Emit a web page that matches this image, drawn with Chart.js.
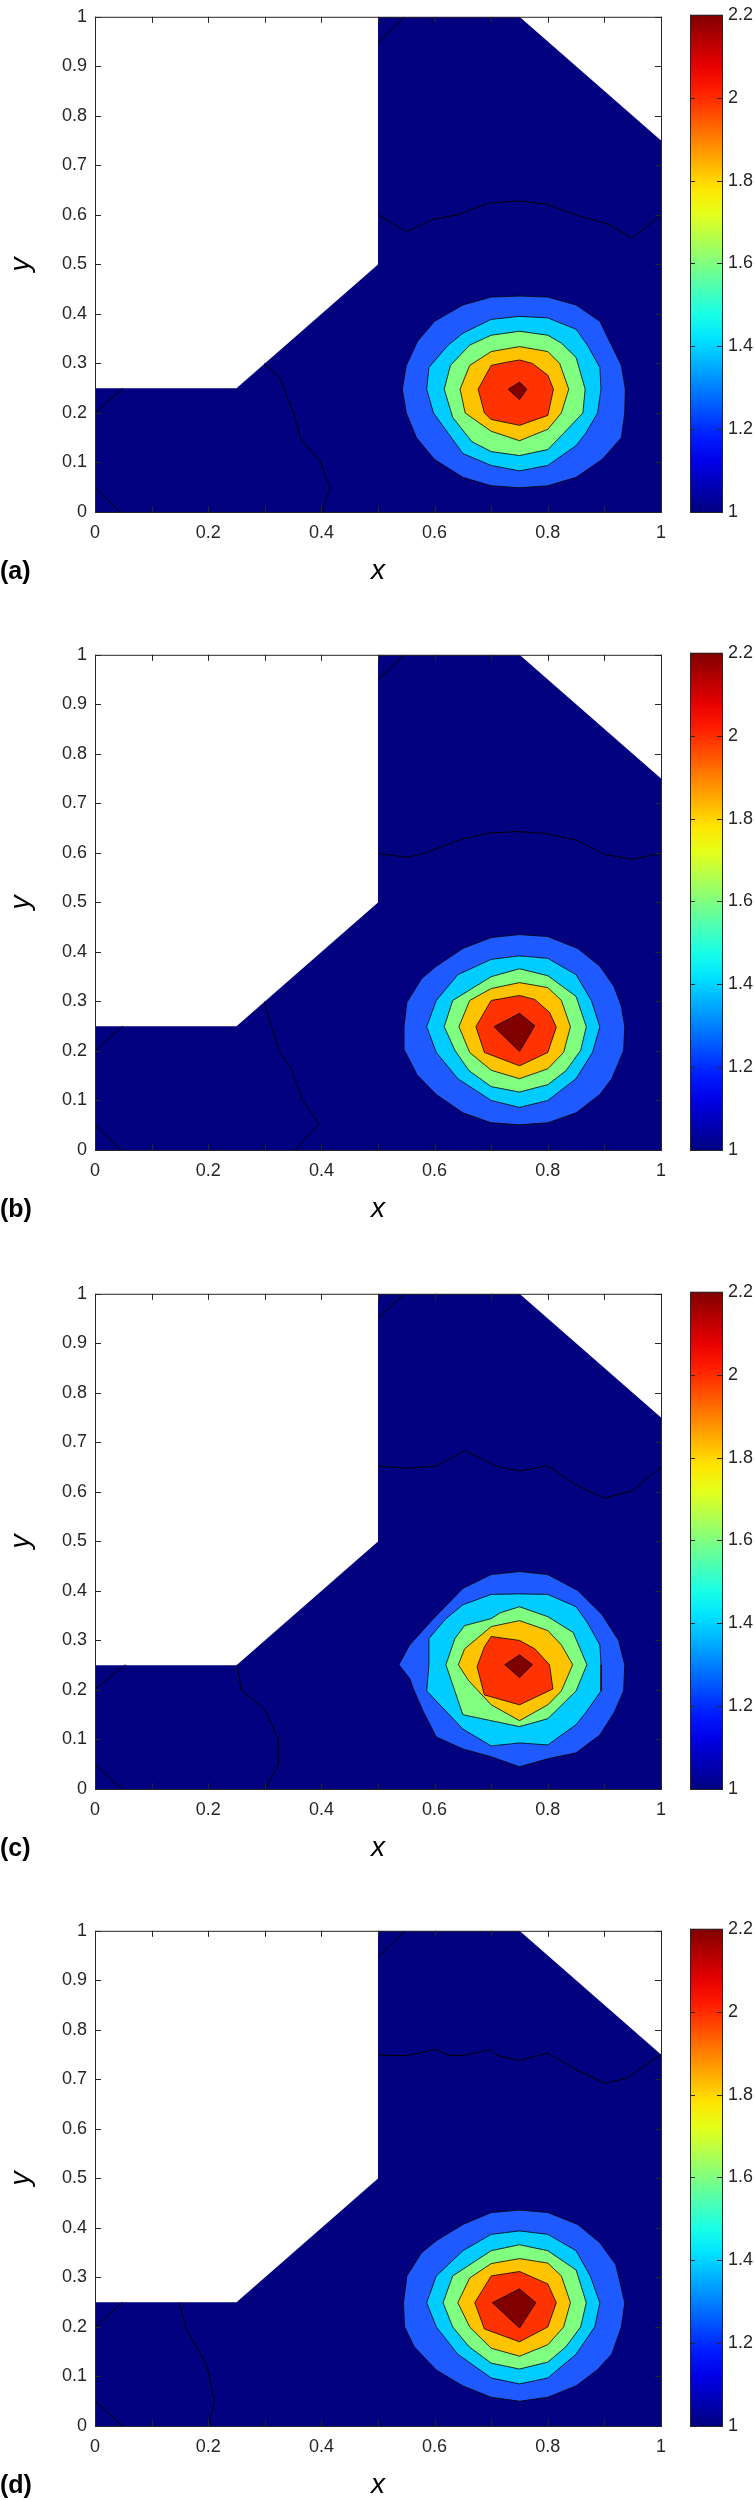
<!DOCTYPE html>
<html><head><meta charset="utf-8">
<script src="https://cdn.jsdelivr.net/npm/chart.js@4"></script>
<style>
body{margin:0;background:#fff;}
#wrap{position:relative;width:755px;height:2500px;}
canvas{position:absolute;}
.lab{position:absolute;font:bold 25px "Liberation Sans",Arial,sans-serif;color:#000;}
</style></head><body><div id="wrap"></div>
<script>
// ---- data ----
const panelLabels = ['(a)','(b)','(c)','(d)'];
const colorbarTicks = [1,1.2,1.4,1.6,1.8,2,2.2];
const axisTicks = [0,0.1,0.2,0.3,0.4,0.5,0.6,0.7,0.8,0.9,1];
const domain = [[0,0],[1,0],[1,0.75],[0.75,1],[0.5,1],[0.5,0.5],[0.25,0.25],[0,0.25]];
const bandColors = ['#1e5aff','#00ccff','#80ff80','#ffc400','#ff3300','#800000'];

// contour bands per panel: outer blue, cyan, green, orange, red, dark red
const bandsA = [
 [[0.75,0.436],[0.80,0.434],[0.85,0.418],[0.892,0.385],[0.909,0.345],[0.93,0.296],[0.937,0.248],[0.936,0.2],[0.93,0.15],[0.896,0.106],[0.85,0.07],[0.80,0.053],[0.75,0.049],[0.70,0.053],[0.65,0.07],[0.60,0.106],[0.568,0.15],[0.55,0.2],[0.543,0.248],[0.55,0.296],[0.57,0.345],[0.60,0.385],[0.65,0.418],[0.70,0.434]],
 [[0.75,0.395],[0.80,0.392],[0.85,0.369],[0.87,0.337],[0.892,0.292],[0.894,0.248],[0.888,0.2],[0.867,0.159],[0.85,0.134],[0.80,0.094],[0.75,0.083],[0.70,0.094],[0.65,0.118],[0.624,0.159],[0.598,0.2],[0.586,0.248],[0.59,0.292],[0.624,0.337],[0.65,0.361],[0.70,0.389]],
 [[0.75,0.365],[0.80,0.357],[0.824,0.341],[0.85,0.312],[0.866,0.248],[0.862,0.2],[0.828,0.159],[0.80,0.126],[0.75,0.114],[0.70,0.122],[0.666,0.142],[0.632,0.191],[0.617,0.248],[0.628,0.296],[0.662,0.337],[0.70,0.357]],
 [[0.75,0.334],[0.80,0.324],[0.821,0.30],[0.837,0.248],[0.824,0.2],[0.80,0.167],[0.75,0.144],[0.70,0.163],[0.654,0.2],[0.645,0.248],[0.662,0.296],[0.70,0.324]],
 [[0.75,0.307],[0.773,0.30],[0.80,0.276],[0.81,0.248],[0.80,0.195],[0.75,0.175],[0.70,0.187],[0.688,0.2],[0.677,0.248],[0.70,0.296],[0.725,0.302]],
 [[0.75,0.262],[0.763,0.248],[0.75,0.227],[0.73,0.248]]
];
const bandsB = [
 [[0.75,0.435],[0.80,0.431],[0.853,0.407],[0.892,0.371],[0.917,0.33],[0.93,0.29],[0.936,0.249],[0.934,0.201],[0.913,0.144],[0.892,0.112],[0.85,0.075],[0.80,0.055],[0.75,0.051],[0.70,0.055],[0.65,0.075],[0.603,0.112],[0.569,0.152],[0.547,0.201],[0.546,0.249],[0.551,0.298],[0.577,0.346],[0.603,0.371],[0.65,0.407],[0.70,0.429]],
 [[0.75,0.392],[0.80,0.387],[0.85,0.354],[0.877,0.302],[0.892,0.249],[0.879,0.197],[0.85,0.144],[0.80,0.10],[0.75,0.086],[0.70,0.10],[0.641,0.144],[0.603,0.197],[0.586,0.249],[0.603,0.302],[0.641,0.354],[0.70,0.385]],
 [[0.75,0.366],[0.80,0.352],[0.85,0.31],[0.868,0.249],[0.858,0.201],[0.832,0.16],[0.80,0.132],[0.75,0.117],[0.70,0.128],[0.661,0.16],[0.636,0.201],[0.617,0.249],[0.632,0.302],[0.70,0.35]],
 [[0.70,0.326],[0.75,0.338],[0.80,0.328],[0.824,0.302],[0.84,0.249],[0.828,0.197],[0.80,0.164],[0.75,0.144],[0.70,0.161],[0.662,0.197],[0.643,0.249],[0.662,0.302]],
 [[0.70,0.302],[0.75,0.312],[0.777,0.304],[0.803,0.278],[0.815,0.248],[0.80,0.197],[0.75,0.17],[0.688,0.197],[0.673,0.249]],
 [[0.705,0.249],[0.75,0.276],[0.777,0.251],[0.75,0.199]]
];
const bandsC = [
 [[0.75,0.439],[0.80,0.433],[0.853,0.401],[0.896,0.352],[0.925,0.30],[0.936,0.251],[0.934,0.198],[0.917,0.154],[0.892,0.109],[0.85,0.073],[0.80,0.061],[0.75,0.045],[0.70,0.065],[0.65,0.081],[0.603,0.105],[0.581,0.154],[0.564,0.198],[0.556,0.223],[0.537,0.251],[0.556,0.291],[0.598,0.344],[0.65,0.405],[0.70,0.433]],
 [[0.75,0.394],[0.80,0.393],[0.85,0.368],[0.87,0.336],[0.892,0.291],[0.894,0.251],[0.894,0.198],[0.867,0.154],[0.85,0.13],[0.80,0.089],[0.75,0.093],[0.70,0.087],[0.65,0.121],[0.586,0.198],[0.59,0.251],[0.59,0.304],[0.62,0.344],[0.65,0.372],[0.70,0.393]],
 [[0.75,0.368],[0.80,0.348],[0.845,0.316],[0.869,0.251],[0.85,0.198],[0.80,0.142],[0.75,0.126],[0.70,0.138],[0.65,0.15],[0.62,0.251],[0.636,0.304],[0.653,0.33],[0.70,0.344],[0.716,0.356]],
 [[0.75,0.34],[0.80,0.32],[0.824,0.291],[0.844,0.251],[0.824,0.198],[0.80,0.17],[0.75,0.138],[0.70,0.17],[0.66,0.219],[0.642,0.251],[0.653,0.283],[0.70,0.328]],
 [[0.70,0.308],[0.75,0.30],[0.777,0.283],[0.803,0.251],[0.809,0.202],[0.75,0.17],[0.688,0.19],[0.675,0.247],[0.688,0.287]],
 [[0.75,0.271],[0.773,0.251],[0.75,0.225],[0.724,0.251]]
];
const bandsD = [
 [[0.75,0.436],[0.80,0.431],[0.853,0.407],[0.892,0.37],[0.92,0.326],[0.936,0.249],[0.93,0.20],[0.913,0.145],[0.887,0.113],[0.85,0.081],[0.80,0.058],[0.75,0.05],[0.70,0.058],[0.65,0.081],[0.603,0.113],[0.564,0.16],[0.547,0.20],[0.545,0.249],[0.551,0.303],[0.577,0.35],[0.603,0.374],[0.65,0.407],[0.70,0.431]],
 [[0.75,0.394],[0.80,0.387],[0.85,0.354],[0.875,0.303],[0.892,0.249],[0.883,0.20],[0.85,0.145],[0.80,0.097],[0.75,0.085],[0.70,0.097],[0.641,0.145],[0.603,0.20],[0.586,0.249],[0.603,0.303],[0.65,0.354],[0.70,0.387]],
 [[0.75,0.366],[0.80,0.354],[0.85,0.315],[0.868,0.249],[0.858,0.20],[0.832,0.16],[0.80,0.129],[0.75,0.115],[0.70,0.127],[0.661,0.16],[0.632,0.20],[0.615,0.249],[0.632,0.303],[0.70,0.354]],
 [[0.70,0.328],[0.75,0.338],[0.80,0.329],[0.824,0.303],[0.84,0.249],[0.828,0.20],[0.80,0.164],[0.75,0.141],[0.70,0.157],[0.662,0.20],[0.641,0.249],[0.662,0.299]],
 [[0.70,0.303],[0.75,0.312],[0.80,0.287],[0.815,0.249],[0.80,0.20],[0.75,0.17],[0.688,0.196],[0.671,0.249]],
 [[0.702,0.249],[0.75,0.277],[0.779,0.249],[0.75,0.198]]
];
// contour lines inside the low-valued (navy) region
const linesA = [
 [[0.5,0.947],[0.547,1]],
 [[0.5,0.6],[0.551,0.566],[0.598,0.591],[0.64,0.6],[0.696,0.624],[0.747,0.628],[0.798,0.622],[0.849,0.6],[0.905,0.582],[0.949,0.553],[1,0.6]],
 [[0,0.2],[0.049,0.25]],
 [[0,0.049],[0.045,0]],
 [[0.299,0.30],[0.326,0.272],[0.351,0.199],[0.364,0.146],[0.398,0.102],[0.415,0.049],[0.401,0]]
];
const linesB = [
 [[0.5,0.95],[0.547,1]],
 [[0.5,0.599],[0.551,0.591],[0.581,0.599],[0.649,0.628],[0.696,0.64],[0.747,0.643],[0.798,0.639],[0.853,0.625],[0.9,0.597],[0.949,0.587],[1,0.599]],
 [[0,0.2],[0.049,0.25]],
 [[0,0.05],[0.047,0]],
 [[0.299,0.30],[0.313,0.245],[0.326,0.197],[0.347,0.164],[0.367,0.10],[0.396,0.053],[0.353,0]]
];
const linesC = [
 [[0.5,0.951],[0.547,1]],
 [[0.5,0.652],[0.551,0.648],[0.603,0.652],[0.653,0.683],[0.709,0.652],[0.75,0.642],[0.80,0.653],[0.85,0.614],[0.9,0.587],[0.949,0.602],[1,0.65]],
 [[0,0.202],[0.054,0.251]],
 [[0,0.05],[0.047,0]],
 [[0.251,0.251],[0.259,0.198],[0.299,0.162],[0.324,0.101],[0.324,0.049],[0.30,0]]
];
const linesD = [
 [[0.5,0.947],[0.547,1]],
 [[0.5,0.749],[0.551,0.748],[0.603,0.761],[0.624,0.749],[0.65,0.748],[0.70,0.76],[0.709,0.749],[0.75,0.738],[0.80,0.753],[0.85,0.72],[0.9,0.692],[0.939,0.702],[1,0.751]],
 [[0,0.2],[0.049,0.25]],
 [[0,0.05],[0.049,0]],
 [[0.149,0.249],[0.16,0.20],[0.198,0.121],[0.211,0.05],[0.20,0]]
];
const panelBands = [bandsA,bandsB,bandsC,bandsD];
const panelLines = [linesA,linesB,linesC,linesD];

// ---- layout ----
const panelTops = [8,646,1285,1922];
const PLOT_H = 504;
const FONT = '"Liberation Sans", Arial, sans-serif';
const wrap = document.getElementById('wrap');

function pts(arr, close){ const p = arr.map(a=>({x:a[0],y:a[1]})); if(close) p.push({x:arr[0][0],y:arr[0][1]}); return p; }

function jet(t){
  const c = v => Math.max(0,Math.min(1,v));
  const r = c(1.5-Math.abs(4*t-3)), g = c(1.5-Math.abs(4*t-2)), b = c(1.5-Math.abs(4*t-1));
  return `rgb(${Math.round(r*255)},${Math.round(g*255)},${Math.round(b*255)})`;
}

const frameTicks = {
  id:'frameTicks',
  afterDatasetsDraw(chart){
    const {ctx, chartArea:a, scales} = chart;
    ctx.save();
    ctx.strokeStyle = '#262626'; ctx.lineWidth = 1;
    const xs = scales.x, ys = scales.y;
    axisTicks.forEach(v=>{
      const px = Math.round(xs.getPixelForValue(v))+0.5;
      ctx.beginPath(); ctx.moveTo(px,a.bottom); ctx.lineTo(px,a.bottom-6); ctx.moveTo(px,a.top); ctx.lineTo(px,a.top+6); ctx.stroke();
      const py = Math.round(ys.getPixelForValue(v))+0.5;
      ctx.beginPath(); ctx.moveTo(a.left,py); ctx.lineTo(a.left+6,py); ctx.moveTo(a.right,py); ctx.lineTo(a.right-6,py); ctx.stroke();
    });
    ctx.strokeStyle = '#262626';
    ctx.strokeRect(a.left+0.5,a.top+0.5,a.right-a.left,a.bottom-a.top);
    ctx.restore();
  }
};

panelTops.forEach((top,i)=>{
  const cv = document.createElement('canvas');
  cv.style.left='0px'; cv.style.top=(top-10)+'px';
  cv.style.width='680px'; cv.style.height=(PLOT_H+10+80)+'px';
  wrap.appendChild(cv);
  const datasets = [];
  datasets.push({data:pts(domain,true), showLine:true, fill:'shape', backgroundColor:'#020281', borderWidth:0, pointRadius:0, order:20});
  panelBands[i].forEach((b,k)=>{
    datasets.push({data:pts(b,true), showLine:true, fill:'shape', backgroundColor:bandColors[k], borderColor:'#000', borderWidth:0.8, pointRadius:0, order:19-k});
  });
  panelLines[i].forEach(l=>{
    datasets.push({data:pts(l,false), showLine:true, fill:false, borderColor:'#000', borderWidth:1, pointRadius:0, order:1});
  });
  new Chart(cv,{
    type:'scatter',
    data:{datasets},
    plugins:[frameTicks],
    options:{
      responsive:false, animation:false, devicePixelRatio:1,
      layout:{padding:{left:0,right:19,top:10,bottom:0}},
      plugins:{legend:{display:false},tooltip:{enabled:false}},
      elements:{line:{tension:0}},
      scales:{
        x:{type:'linear',min:0,max:1,afterBuildTicks(s){s.ticks=[0,0.2,0.4,0.6,0.8,1].map(v=>({value:v}));},
           grid:{display:false,drawTicks:false}, border:{display:false},
           ticks:{font:{family:FONT,size:18},color:'#262626',padding:10,maxRotation:0,callback:v=>String(v)},
           title:{display:true,text:'x',font:{family:FONT,size:28,style:'italic'},color:'#000',padding:{top:2}},
           afterFit(s){s.height=80;}},
        y:{type:'linear',min:0,max:1,afterBuildTicks(s){s.ticks=axisTicks.map(v=>({value:v}));},
           grid:{display:false,drawTicks:false}, border:{display:false},
           ticks:{font:{family:FONT,size:18},color:'#262626',padding:8,callback:v=>String(v)},
           title:{display:true,text:'y',font:{family:FONT,size:28,style:'italic'},color:'#000',padding:{bottom:4}},
           afterFit(s){s.width=95;}}
      }
    }
  });
  // colorbar
  const cb = document.createElement('canvas');
  cb.style.left='670px'; cb.style.top=(top-10)+'px';
  cb.style.width='85px'; cb.style.height=(PLOT_H+10+80)+'px';
  wrap.appendChild(cb);
  new Chart(cb,{
    type:'bar',
    data:{labels:[''],datasets:[{data:[[1,2.2]],borderWidth:0,categoryPercentage:1,barPercentage:1,
      backgroundColor(ctx){
        const ch = ctx.chart, a = ch.chartArea; if(!a) return '#000';
        const y = ch.scales.y; const g = ch.ctx.createLinearGradient(0,y.getPixelForValue(1),0,y.getPixelForValue(2.2));
        for(let s=0;s<=20;s++){ g.addColorStop(s/20, jet(s/20)); }
        return g;
      }}]},
    plugins:[{id:'cbFrame',afterDatasetsDraw(ch){const {ctx,chartArea:a,scales}=ch;ctx.save();ctx.strokeStyle='#262626';ctx.lineWidth=1;
      colorbarTicks.forEach(v=>{const py=Math.round(scales.y.getPixelForValue(v))+0.5;ctx.beginPath();ctx.moveTo(a.right,py);ctx.lineTo(a.right-5,py);ctx.moveTo(a.left,py);ctx.lineTo(a.left+5,py);ctx.stroke();});
      ctx.strokeRect(a.left+0.5,a.top+0.5,a.right-a.left,a.bottom-a.top);ctx.restore();}}],
    options:{
      responsive:false, animation:false, devicePixelRatio:1,
      layout:{padding:{left:20,right:0,top:10,bottom:80}},
      plugins:{legend:{display:false},tooltip:{enabled:false}},
      scales:{
        x:{display:false},
        y:{position:'right',min:1,max:2.2,afterBuildTicks(s){s.ticks=colorbarTicks.map(v=>({value:v}));},
           grid:{display:false,drawTicks:false}, border:{display:false},
           ticks:{font:{family:FONT,size:18},color:'#262626',padding:6,callback:v=>String(Math.round(v*10)/10)},
           afterFit(s){s.width=33;}}
      }
    }
  });
  const lab = document.createElement('div');
  lab.className='lab'; lab.textContent=panelLabels[i];
  lab.style.left='0px'; lab.style.top=(top+PLOT_H+44)+'px';
  wrap.appendChild(lab);
});
</script></body></html>
